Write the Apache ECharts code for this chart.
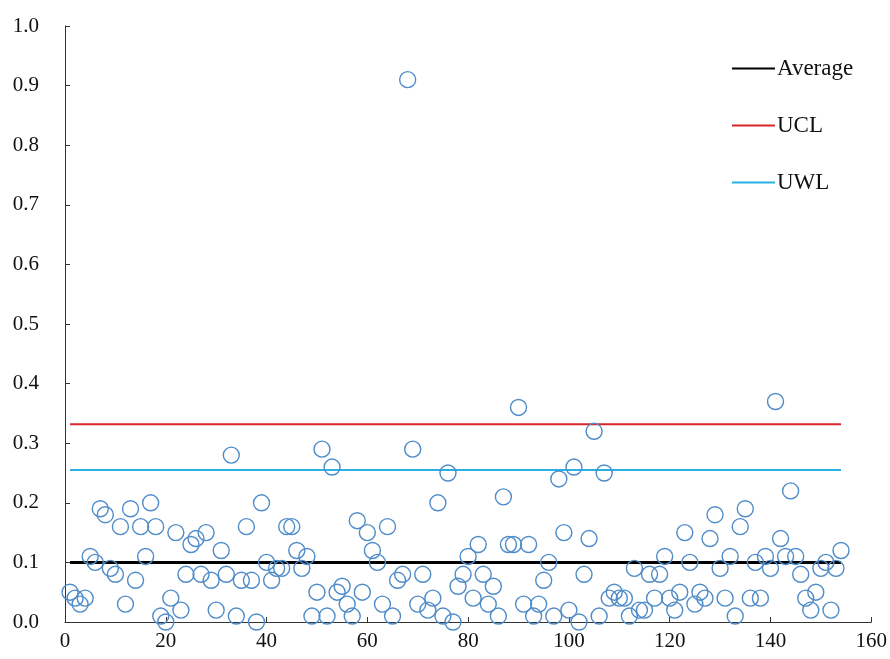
<!DOCTYPE html>
<html>
<head>
<meta charset="utf-8">
<script src="https://cdn.jsdelivr.net/npm/echarts@6/dist/echarts.min.js"></script>
<style>html,body{margin:0;padding:0;background:#fff}#c{width:890px;height:659px}</style>
</head>
<body>
<div id="c"></div>
<script>
// Sample values, one per sample number 1..154
var sampleValues = [
  0.05,0.04,0.03,0.04,0.11,0.10,0.19,0.18,0.09,0.08,
  0.16,0.03,0.19,0.07,0.16,0.11,0.20,0.16,0.01,0.00,
  0.04,0.15,0.02,0.08,0.13,0.14,0.08,0.15,0.07,0.02,
  0.12,0.08,0.28,0.01,0.07,0.16,0.07,0.00,0.20,0.10,
  0.07,0.09,0.09,0.16,0.16,0.12,0.09,0.11,0.01,0.05,
  0.29,0.01,0.26,0.05,0.06,0.03,0.01,0.17,0.05,0.15,
  0.12,0.10,0.03,0.16,0.01,0.07,0.08,0.91,0.29,0.03,
  0.08,0.02,0.04,0.20,0.01,0.25,0.00,0.06,0.08,0.11,
  0.04,0.13,0.08,0.03,0.06,0.01,0.21,0.13,0.13,0.36,
  0.03,0.13,0.01,0.03,0.07,0.10,0.01,0.24,0.15,0.02,
  0.26,0.00,0.08,0.14,0.32,0.01,0.25,0.04,0.05,0.04,
  0.04,0.01,0.09,0.02,0.02,0.08,0.04,0.08,0.11,0.04,
  0.02,0.05,0.15,0.10,0.03,0.05,0.04,0.14,0.18,0.09,
  0.04,0.11,0.01,0.16,0.19,0.04,0.10,0.04,0.11,0.09,
  0.37,0.14,0.11,0.22,0.11,0.08,0.04,0.02,0.05,0.09,
  0.10,0.02,0.09,0.12
];
var averageValue = 0.10;
var uclValue = 0.332;
var uwlValue = 0.255;
var lineStart = 1;
var lineEnd = 154;
var seriesNames = ['Average', 'UCL', 'UWL'];
var xTicks = [0, 20, 40, 60, 80, 100, 120, 140, 160];
var yTicks = [0.0, 0.1, 0.2, 0.3, 0.4, 0.5, 0.6, 0.7, 0.8, 0.9, 1.0];

var scatterData = sampleValues.map(function (v, i) { return [i + 1, v]; });
function hline(v) { return [[lineStart, v], [lineEnd, v]]; }

var font = 'Liberation Serif, Times New Roman, serif';
var chart = echarts.init(document.getElementById('c'), null, { renderer: 'canvas' });
chart.setOption({
  animation: false,
  backgroundColor: '#ffffff',
  grid: { left: 65, right: 18, top: 26, bottom: 37, containLabel: false },
  legend: {
    data: seriesNames,
    orient: 'vertical',
    left: 727,
    top: 52,
    itemGap: 34,
    itemWidth: 43,
    itemHeight: 2,
    icon: 'rect',
    textStyle: { fontFamily: font, fontSize: 23, color: '#111', padding: [0, 0, 0, -3] }
  },
  xAxis: {
    type: 'value',
    min: xTicks[0],
    max: xTicks[xTicks.length - 1],
    interval: 20,
    axisLine: { show: true, lineStyle: { color: '#333', width: 1 } },
    axisTick: { show: true, inside: true, length: 5, lineStyle: { color: '#333' } },
    splitLine: { show: false },
    axisLabel: { fontFamily: font, fontSize: 21, color: '#111', margin: 9 }
  },
  yAxis: {
    type: 'value',
    min: yTicks[0],
    max: yTicks[yTicks.length - 1],
    interval: 0.1,
    axisLine: { show: true, lineStyle: { color: '#333', width: 1 } },
    axisTick: { show: true, inside: true, length: 5, lineStyle: { color: '#333' } },
    splitLine: { show: false },
    axisLabel: {
      fontFamily: font, fontSize: 21, color: '#111', margin: 26,
      formatter: function (v) { return v.toFixed(1); }
    }
  },
  series: [
    {
      name: 'Samples',
      type: 'scatter',
      data: scatterData,
      symbol: 'circle',
      symbolSize: 16,
      itemStyle: { color: 'rgba(255,255,255,0)', borderColor: '#4f8cc9', borderWidth: 1.4, opacity: 1 },
      z: 3
    },
    {
      name: seriesNames[0], type: 'line', data: hline(averageValue), symbol: 'none',
      lineStyle: { color: '#000000', width: 3 }, itemStyle: { color: '#000000' }, z: 2
    },
    {
      name: seriesNames[1], type: 'line', data: hline(uclValue), symbol: 'none',
      lineStyle: { color: '#d9262b', width: 2 }, itemStyle: { color: '#d9262b' }, z: 2
    },
    {
      name: seriesNames[2], type: 'line', data: hline(uwlValue), symbol: 'none',
      lineStyle: { color: '#29b1e6', width: 2 }, itemStyle: { color: '#29b1e6' }, z: 2
    }
  ]
});
</script>
</body>
</html>
